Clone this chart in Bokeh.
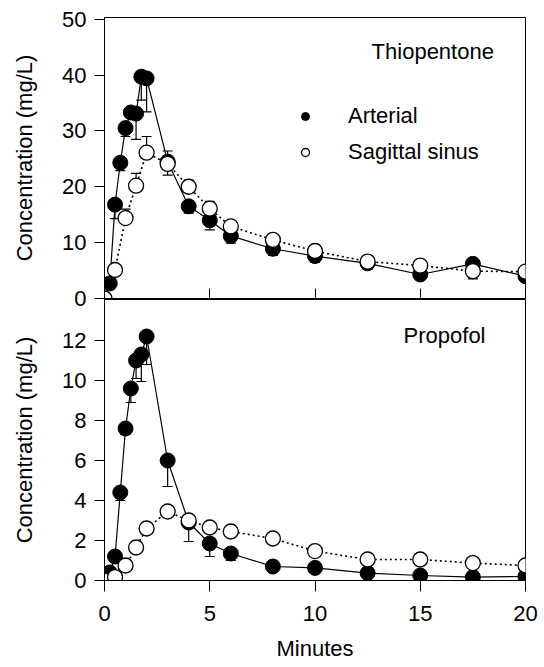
from bokeh.plotting import figure
from bokeh.layouts import column
from bokeh.models import (Range1d, FixedTicker, Whisker, TeeHead, ColumnDataSource,
                          Legend, LegendItem, Label)
from bokeh.embed import file_html
from bokeh.resources import INLINE

FONT = "Liberation Sans"
FS = "22px"

# ---------------- data ----------------
times_art = [0, 0.25, 0.5, 0.75, 1.0, 1.25, 1.5, 1.75, 2, 3, 4, 5, 6, 8, 10, 12.5, 15, 17.5, 20]
times_sag = [0, 0.5, 1.0, 1.5, 2, 3, 4, 5, 6, 8, 10, 12.5, 15, 17.5, 20]

# Thiopentone (mg/L); error = SEM, sign gives direction drawn (+ up, - down)
thio_art = [0, 2.7, 16.8, 24.3, 30.5, 33.3, 33.1, 39.7, 39.4, 24.5, 16.5, 14.0, 11.2, 8.9, 7.6, 6.3, 4.3, 6.2, 4.0]
thio_art_err = [0, 0, -2.5, -1.4, -1.5, -0.8, -4.6, -4.2, -6.0, -2.4, -1.2, -1.7, -1.3, -1.2, -1.1, -1.1, -0.5, -0.5, -0.9]
thio_sag = [0, 5.1, 14.4, 20.2, 26.1, 24.1, 20.0, 16.1, 12.9, 10.5, 8.5, 6.6, 5.9, 4.9, 4.8]
thio_sag_err = [0, 0.8, 1.6, 2.2, 2.9, 2.3, 1.2, 1.3, 0.6, 0.5, 0.4, 0.4, 0.4, -1.4, 0.3]

# Propofol (mg/L)
prop_art = [0, 0.4, 1.2, 4.4, 7.6, 9.6, 11.0, 11.3, 12.2, 6.0, 2.9, 1.85, 1.35, 0.7, 0.63, 0.37, 0.25, 0.17, 0.2]
prop_art_err = [0, 0, 0, -0.4, -0.3, -0.7, -0.9, -1.35, -1.4, -1.3, -0.95, -0.65, -0.35, 0, 0, 0, 0, 0, 0]
prop_sag = [0, 0.17, 0.75, 1.65, 2.6, 3.45, 3.0, 2.65, 2.45, 2.1, 1.47, 1.05, 1.05, 0.87, 0.75]
prop_sag_err = [0, 0, 0, 0, 0, 0.1, 0, 0.1, 0.1, 0, 0, 0, 0, 0, 0]

x_ticks = [0, 5, 10, 15, 20]
thio_y_ticks = [0, 10, 20, 30, 40, 50]
prop_y_ticks = [0, 2, 4, 6, 8, 10, 12]


def err_source(t, c, e):
    xs, lo, hi = [], [], []
    for ti, ci, ei in zip(t, c, e):
        if ei == 0:
            continue
        xs.append(ti)
        lo.append(min(ci, ci + ei))
        hi.append(max(ci, ci + ei))
    return ColumnDataSource(dict(x=xs, lo=lo, hi=hi))


def panel(art, art_err, sag, sag_err, y_end, y_ticks, left, right, top, bottom, **kw):
    p = figure(width=left + 424 + right, height=top + 281 + bottom,
               x_range=Range1d(0, 20), y_range=Range1d(0, y_end),
               output_backend="svg", toolbar_location=None,
               min_border_left=left, min_border_right=right,
               min_border_top=top, min_border_bottom=bottom, **kw)
    p.grid.visible = False
    p.outline_line_color = "black"
    p.outline_line_alpha = 1
    p.outline_line_width = 1
    p.background_fill_color = "white"

    for ax in (p.xaxis[0], p.yaxis[0]):
        ax.axis_line_color = "black"
        ax.major_tick_line_color = "black"
        ax.minor_tick_line_color = None
        ax.major_label_text_font = FONT
        ax.major_label_text_font_size = FS
        ax.major_label_text_color = "black"
        ax.axis_label_text_font = FONT
        ax.axis_label_text_font_size = FS
        ax.axis_label_text_font_style = "normal"
        ax.axis_label_text_color = "black"

    p.xaxis.ticker = FixedTicker(ticks=x_ticks)
    p.yaxis.ticker = FixedTicker(ticks=y_ticks)
    p.yaxis.major_tick_out = 10
    p.yaxis.major_tick_in = 0
    p.yaxis.major_label_standoff = 8
    p.yaxis.axis_label = "Concentration (mg/L)"
    p.yaxis.axis_label_standoff = 22

    for src in (err_source(times_art, art, art_err), err_source(times_sag, sag, sag_err)):
        w = Whisker(source=src, base="x", lower="lo", upper="hi", dimension="height",
                    line_color="black", line_width=1.2, level="underlay",
                    lower_head=TeeHead(size=10, line_color="black", line_width=1.2),
                    upper_head=TeeHead(size=10, line_color="black", line_width=1.2))
        p.add_layout(w)

    p.line(times_art, art, line_color="black", line_width=1.2)
    p.line(times_sag, sag, line_color="black", line_width=1.6, line_dash="2 3")
    r_art = p.scatter(times_art, art, size=15, marker="circle",
                      fill_color="black", line_color="black", line_width=1)
    r_sag = p.scatter(times_sag, sag, size=15, marker="circle",
                      fill_color="white", line_color="black", line_width=1.3)
    return p, r_art, r_sag


# top panel: its bottom border is overlapped by the lower panel
p1, a1, s1 = panel(thio_art, thio_art_err, thio_sag, thio_sag_err, 50.3, thio_y_ticks,
                   left=101, right=17, top=17, bottom=30)
p1.border_fill_color = "white"
p1.xaxis.major_tick_in = 10
p1.xaxis.major_tick_out = 0
p1.xaxis.major_label_text_color = None
p1.xaxis.major_label_standoff = 0

p1.add_layout(Label(x=18.5, y=44.2, text="Thiopentone", text_align="right",
                    text_baseline="alphabetic", text_font=FONT, text_font_size=FS,
                    text_color="black"))

legend = Legend(items=[LegendItem(label="Arterial", renderers=[a1]),
                       LegendItem(label="Sagittal sinus", renderers=[s1])],
                location=(191, 133), orientation="vertical",
                border_line_color=None, background_fill_alpha=0,
                padding=0, margin=0, spacing=10,
                glyph_width=20, glyph_height=20, label_height=20,
                label_standoff=33, label_text_font=FONT, label_text_font_size=FS,
                label_text_color="black")
p1.add_layout(legend)

p2, a2, s2 = panel(prop_art, prop_art_err, prop_sag, prop_sag_err, 14.05, prop_y_ticks,
                   left=104, right=14, top=1, bottom=87, margin=(-30, 0, 0, 0))
p2.border_fill_alpha = 0
p2.xaxis.major_tick_out = 11
p2.xaxis.major_tick_in = 0
p2.xaxis.major_label_standoff = 14
p2.xaxis.axis_label = "Minutes"
p2.xaxis.axis_label_standoff = 12

p2.add_layout(Label(x=18.1, y=12.25, text="Propofol", text_align="right",
                    text_baseline="alphabetic", text_font=FONT, text_font_size=FS,
                    text_color="black"))

layout = column(p1, p2, spacing=0)

with open("out.html", "w") as f:
    f.write(file_html(layout, INLINE))
